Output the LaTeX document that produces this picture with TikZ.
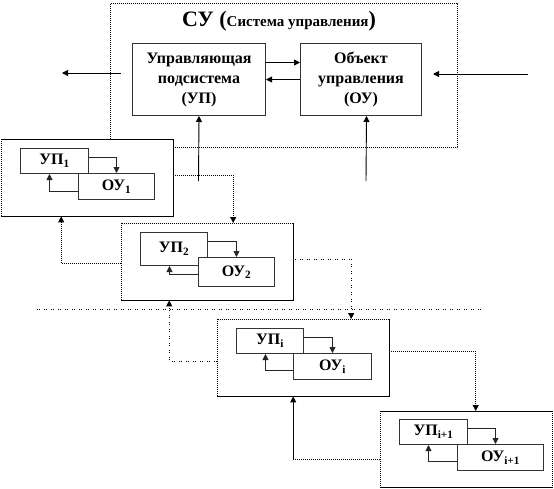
\documentclass[tikz,border=0pt]{standalone}
\usepackage{fontspec}
\setmainfont{Liberation Serif}
\usetikzlibrary{arrows.meta,calc}
\tikzset{
  ln/.style={line width=0.9pt},
  tip/.style={-{Triangle[length=6pt,width=6pt]}},
  dens/.style={dash pattern=on 1pt off 1pt},
  loose/.style={dash pattern=on 1pt off 1pt on 1pt off 4pt},
  inbox/.style={draw=black!80, line width=1pt, fill=white, inner sep=0pt, anchor=north west,
    font=\bfseries\fontsize{16}{16}\selectfont},
  bigbox/.style={inbox, align=center, font=\bfseries\fontsize{16}{20}\selectfont},
  frame/.style={inner sep=0pt, anchor=north west, minimum width=172pt, minimum height=77pt},
  inarr/.style={line width=0.9pt, draw=black!85, tip},
}
\begin{document}
\begin{tikzpicture}[x=1pt,y=-1pt]
\useasboundingbox (0,0) rectangle (554,488);
% Control system frame
\node[inner sep=0pt, anchor=north west, minimum width=347pt, minimum height=144pt, draw, dens, line width=1pt] (su) at (110,3) {};
\node[font=\bfseries] (title) at (279,21) {{\fontsize{22}{22}\selectfont СУ (}{\fontsize{15}{15}\selectfont Система управления}{\fontsize{22}{22}\selectfont )}};
\node[bigbox, minimum width=133pt, minimum height=72pt] (up) at (132,43) {Управляющая\\подсистема\\(УП)};
\node[bigbox, minimum width=121pt, minimum height=72pt] (ou) at (300,43) {Объект\\управления\\(ОУ)};
\draw[ln,tip] ([yshift=17pt]up.east) -- ([yshift=17pt]ou.west);
\draw[ln,tip] (ou.west) -- (up.east);
\coordinate (lin) at (121,73); \coordinate (lout) at (62,73);
\draw[ln,tip] (lin) -- (lout);
\coordinate (rin) at (528,74); \coordinate (rout) at (433,74);
\draw[ln,tip] (rin) -- (rout);
\coordinate (vu) at (198.5,181);
\draw[ln,tip] (vu) -- (up.south);
\coordinate (vo) at (366,181);
\draw[ln,tip] (vo) -- ([xshift=5.5pt]ou.south);

% Box 1
\node[frame, fill=white] (b1) at (1,139) {};
\draw[ln] (b1.north west) -- (b1.north east) -- (b1.south east) -- (b1.south west);
\draw[ln,dens] (b1.south west) -- (b1.north west);
\node[inbox, minimum width=68pt, minimum height=25pt] (up1) at (20,148) {УП\textsubscript{1}};
\node[inbox, minimum width=76pt, minimum height=26pt] (ou1) at (78,173) {ОУ\textsubscript{1}};
\draw[inarr] ([yshift=3.5pt]up1.east) -| (ou1.north);
\draw[inarr] ([yshift=-5pt]ou1.west) -| ([xshift=-5pt]up1.south);

% Box 2
\node[frame] (b2) at (121,223) {};
\draw[ln] (b2.north east) -- (b2.south east) -- (b2.south west);
\draw[ln,dens] (b2.south west) -- (b2.north west) -- (b2.north east);
\node[inbox, minimum width=67pt, minimum height=33pt] (up2) at (140,232) {УП\textsubscript{2}};
\node[inbox, minimum width=76pt, minimum height=29pt] (ou2) at (198,257) {ОУ\textsubscript{2}};
\draw[inarr] ([yshift=7.5pt]up2.east) -| (ou2.north);
\draw[inarr] ([yshift=-2.5pt]ou2.west) -| ([xshift=-4.5pt]up2.south);

\draw[ln,dens,tip] ([yshift=2.5pt]b1.east) -| ([xshift=26pt]b2.north);
\draw[ln,dens,tip] ([yshift=-1.5pt]b2.west) -| ([xshift=-26pt]b1.south);

% separator
\coordinate (s1) at (37,309); \coordinate (s2) at (482,309);
\draw[ln,loose] (s1) -- (s2);

% Box i
\node[frame] (bi) at (217,319) {};
\draw[ln] (bi.north east) -- (bi.south east) -- (bi.south west);
\draw[ln,dens] (bi.south west) -- (bi.north west) -- (bi.north east);
\node[inbox, minimum width=67pt, minimum height=25pt] (upi) at (236,328) {УП\textsubscript{i}};
\node[inbox, minimum width=78pt, minimum height=26pt] (oui) at (293,353) {ОУ\textsubscript{i}};
\draw[inarr] ([yshift=3.5pt]upi.east) -| (oui.north);
\draw[inarr] ([yshift=-4pt]oui.west) -| ([xshift=-4.5pt]upi.south);

\draw[ln,loose,tip] ([yshift=2.5pt]b2.east) -| ([xshift=48pt]bi.north);
\draw[ln,loose,tip] ([yshift=-3.5pt]bi.west) -| ([xshift=-38pt]b2.south);

% Box i+1
\node[frame, minimum height=76pt] (b3) at (380,411) {};
\draw[ln] (b3.north west) -- (b3.north east);
\draw[ln] (b3.south west) -- (b3.south east);
\draw[ln,dens] (b3.north west) -- (b3.south west);
\draw[ln,dens] (b3.north east) -- (b3.south east);
\node[inbox, minimum width=68pt, minimum height=25pt] (up3) at (399,419) {УП\textsubscript{i+1}};
\node[inbox, minimum width=86pt, minimum height=26pt] (ou3) at (457,444) {ОУ\textsubscript{i+1}};
\draw[inarr] ([yshift=3.5pt]up3.east) -| ([xshift=-5pt]ou3.north);
\draw[inarr] ([yshift=-4pt]ou3.west) -| ([xshift=-5pt]up3.south);

\draw[ln,dens,tip] ([yshift=6.5pt]bi.east) -| ([xshift=9.5pt]b3.north);
\path ([yshift=-10pt]b3.west) coordinate (b3w);
\path ([xshift=-10pt]bi.south) coordinate (bis);
\coordinate (k) at (bis |- b3w);
\draw[ln,dens] (b3w) -- (k);
\draw[ln,tip] (k) -- (bis);
\end{tikzpicture}
\end{document}
